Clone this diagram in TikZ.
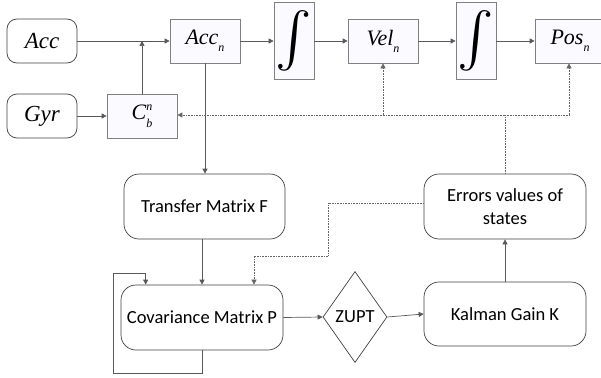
\documentclass[tikz,border=0pt]{standalone}
\usepackage{fontspec}
\usepackage{graphicx}
\setmainfont{Carlito}
\newfontfamily\tnr{Liberation Serif}
\usetikzlibrary{arrows.meta,shapes.geometric}
\newcommand{\vname}[2]{{\tnr\itshape\fontsize{22}{22}\selectfont #1\raisebox{-7pt}{\fontsize{12}{12}\selectfont #2}}}
\begin{document}
\begin{tikzpicture}[x=1pt,y=-1pt,
  roundbox/.style={draw=black!75,line width=0.7pt,rounded corners=#1,fill=white,inner sep=0pt,align=center},
  roundbox/.default=10pt,
  sqbox/.style={draw=black!50,line width=0.7pt,fill=blue!2,inner sep=0pt,minimum width=70pt,minimum height=44pt},
  intbox/.style={sqbox,minimum width=40pt,minimum height=77pt},
  flow/.style={draw=black!65,line width=0.7pt,-{Triangle[length=5pt,width=5pt]}},
  fback/.style={draw=black!60,line width=0.6pt,densely dotted},
  every node/.append style={font=\fontsize{18.5}{23}\selectfont}]
\useasboundingbox (0,0) rectangle (601,377);
\node [roundbox,minimum width=70pt,minimum height=44pt] (acc) at (42,41) {{\tnr\itshape\fontsize{23}{23}\selectfont Acc}};
\node [roundbox,minimum width=70pt,minimum height=44pt] (gyr) at (42,116) {{\tnr\itshape\fontsize{23}{23}\selectfont Gyr}};
\node [sqbox] (cbn) at (142,116) {{\tnr\itshape\fontsize{22}{22}\selectfont C\rlap{\raisebox{9pt}{\fontsize{12}{12}\selectfont n}}\raisebox{-8pt}{\fontsize{12}{12}\selectfont b}}};
\node [sqbox] (accn) at (205,41) {\vname{Acc}{n}};
\node [intbox] (int1) at (294,41) {\resizebox{!}{54pt}{$\int$}};
\node [sqbox] (veln) at (383,41) {\vname{Vel}{n}};
\node [intbox] (int2) at (476,41) {\resizebox{!}{54pt}{$\int$}};
\node [sqbox] (posn) at (570,41) {\vname{Pos}{n}};
\node [roundbox=15pt,minimum width=161pt,minimum height=65pt] (tmf) at (204.5,206.5) {Transfer Matrix F};
\node [roundbox=15pt,minimum width=162pt,minimum height=65pt] (cov) at (202,317.5) {Covariance Matrix P};
\node [diamond,draw=black!75,line width=0.7pt,inner sep=0pt,minimum width=64pt,minimum height=91pt,aspect=0.7] (zupt) at (355,317) {ZUPT};
\node [roundbox=15pt,minimum width=162pt,minimum height=64pt] (kal) at (505,314) {Kalman Gain K};
\node [roundbox=15pt,minimum width=162pt,minimum height=65pt] (err) at (505,206.5) {Errors values of\\states};
\coordinate (fb) at (505,115);
\coordinate (loopbl) at (113,373);
\coordinate (looptl) at (113,273);
\coordinate (ecor) at (328,256);
\draw [flow] (acc.east) -- (accn.west);
\draw [flow] (cbn.north) -- (cbn.north |- acc.east);
\draw [flow] (gyr.east) -- (cbn.west);
\draw [flow] (accn.east) -- (int1.west);
\draw [flow] (int1.east) -- (veln.west);
\draw [flow] (veln.east) -- (int2.west);
\draw [flow] (int2.east) -- (posn.west);
\draw [flow] (accn.south) -- (accn.south |- tmf.north);
\draw [flow] (tmf.south -| cov.north) -- (cov.north);
\draw [flow] (cov.south) |- (loopbl) -- (looptl) -| ([xshift=25pt]cov.north west);
\draw [flow] (cov.east) -- (zupt.west);
\draw [flow] (zupt.east) -- (kal.west);
\draw [flow] (kal.north) -- (err.south);
\draw [fback,-{Triangle[length=5pt,width=5pt]}] ([yshift=3.5pt]err.west) -| (ecor) -| ([xshift=52pt]cov.north);
\draw [fback] (err.north) -- (fb);
\draw [fback,-{Triangle[length=5pt,width=5pt]}] (fb) -| (posn.south -| 569,0);
\draw [fback,-{Triangle[length=5pt,width=5pt]}] (fb) -- (fb -| cbn.east);
\draw [fback,-{Triangle[length=5pt,width=5pt]}] (fb -| veln.south) -- (veln.south);
\end{tikzpicture}
\end{document}
